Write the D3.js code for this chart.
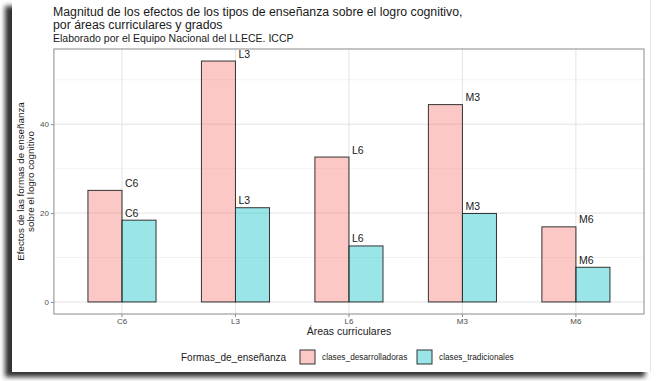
<!DOCTYPE html>
<html><head><meta charset="utf-8">
<script src="https://cdn.jsdelivr.net/npm/d3@7"></script>
<style>body{margin:0;background:#fff}svg{display:block}text{font-family:"Liberation Sans",Arial,sans-serif}</style>
</head><body><svg id="c" width="659" height="381"></svg>
<script>
const categories = ["C6","L3","L6","M3","M6"];
const seriesNames = ["clases_desarrolladoras","clases_tradicionales"];
const desarrolladoras = [25.1, 54.2, 32.6, 44.4, 16.9];
const tradicionales = [18.4, 21.2, 12.6, 19.9, 7.8];
const yTicks = [0, 20, 40];
const colors = ["#F8766D", "#00BFC4"];

const svg = d3.select("#c");
const defs = svg.append("defs");
const f = defs.append("filter").attr("id","sh").attr("x","-10%").attr("y","-10%").attr("width","120%").attr("height","120%");
f.append("feGaussianBlur").attr("stdDeviation", 2.5);
svg.append("rect").attr("x",5).attr("y",6).attr("width",640).attr("height",371).attr("fill","#333").attr("filter","url(#sh)");
svg.append("rect").attr("x",12).attr("y",0).attr("width",638).attr("height",372).attr("fill","#fff");
svg.append("line").attr("x1",650.5).attr("x2",650.5).attr("y1",0).attr("y2",372).attr("stroke","#e6e6e6");

const L = 53.9, R = 644, T = 49, B = 314;
const x = d3.scaleBand().domain(categories).range([L, R]).paddingInner(0).paddingOuter(0.1);
const step = x.step();
const xs = d3.scaleBand().domain(seriesNames).range([-0.3*step, 0.3*step]);
const yMax = d3.max(desarrolladoras.concat(tradicionales));
const y = d3.scaleLinear().domain([-0.05*yMax, 1.05*yMax]).range([B, T]);

const data = [];
categories.forEach((c,i)=>{
  data.push({c, s:seriesNames[0], v:desarrolladoras[i], k:0});
  data.push({c, s:seriesNames[1], v:tradicionales[i], k:1});
});

const g = svg.append("g");
[10,30,50].forEach(v=>{
  g.append("line").attr("x1",L).attr("x2",R).attr("y1",y(v)).attr("y2",y(v)).attr("stroke","#f0f0f0").attr("stroke-width",0.8);
});
yTicks.forEach(v=>{
  g.append("line").attr("x1",L).attr("x2",R).attr("y1",y(v)).attr("y2",y(v)).attr("stroke","#e3e3e3").attr("stroke-width",1);
});
categories.forEach(c=>{
  const cx = x(c)+step/2;
  g.append("line").attr("x1",cx).attr("x2",cx).attr("y1",T).attr("y2",B).attr("stroke","#e3e3e3").attr("stroke-width",1);
});

g.selectAll("rect.bar").data(data).enter().append("rect")
  .attr("x", d=>x(d.c)+step/2+xs(d.s))
  .attr("width", xs.bandwidth())
  .attr("y", d=>y(d.v))
  .attr("height", d=>y(0)-y(d.v))
  .attr("fill", d=>colors[d.k]).attr("fill-opacity",0.4)
  .attr("stroke","#333").attr("stroke-width",1);

g.selectAll("text.lab").data(data).enter().append("text")
  .attr("x", d=>x(d.c)+step/2+3)
  .attr("y", d=>y(d.v)-3.5)
  .attr("font-size",10.5).attr("fill","#1a1a1a")
  .text(d=>d.c);

g.append("rect").attr("x",L).attr("y",T).attr("width",R-L).attr("height",B-T).attr("fill","none").attr("stroke","#8a8a8a").attr("stroke-width",1);

const ya = svg.append("g").attr("transform",`translate(${L},0)`).call(d3.axisLeft(y).tickValues(yTicks).tickSize(3).tickPadding(2));
ya.select(".domain").remove();
ya.selectAll("line").attr("stroke","#8a8a8a");
ya.selectAll("text").attr("font-size",8).attr("fill","#4d4d4d").attr("font-family","Liberation Sans, Arial, sans-serif");
const xa = svg.append("g").attr("transform",`translate(0,${B})`).call(d3.axisBottom(x).tickSize(3).tickPadding(1));
xa.select(".domain").remove();
xa.selectAll("line").attr("stroke","#8a8a8a");
xa.selectAll("text").attr("font-size",8).attr("fill","#4d4d4d").attr("font-family","Liberation Sans, Arial, sans-serif");

svg.append("text").attr("x",53).attr("y",16).attr("font-size",12.3).attr("fill","#1a1a1a").text("Magnitud de los efectos de los tipos de enseñanza sobre el logro cognitivo,");
svg.append("text").attr("x",53).attr("y",29).attr("font-size",12.3).attr("fill","#1a1a1a").text("por áreas curriculares y grados");
svg.append("text").attr("x",53).attr("y",42).attr("font-size",10.5).attr("fill","#1a1a1a").text("Elaborado por el Equipo Nacional del LLECE. ICCP");

svg.append("text").attr("x",(L+R)/2).attr("y",335).attr("text-anchor","middle").attr("font-size",10.5).attr("fill","#1a1a1a").text("Áreas curriculares");

const yt = svg.append("text").attr("transform",`translate(23.5,${(T+B)/2}) rotate(-90)`).attr("text-anchor","middle").attr("font-size",9.8).attr("fill","#1a1a1a");
yt.append("tspan").attr("x",0).attr("y",0).text("Efectos de las formas de enseñanza");
yt.append("tspan").attr("x",0).attr("y",10.5).text("sobre el logro cognitivo");

svg.append("text").attr("x",181).attr("y",361).attr("font-size",10).attr("fill","#1a1a1a").text("Formas_de_enseñanza");
const legX = [300, 417];
seriesNames.forEach((s,i)=>{
  svg.append("rect").attr("x",legX[i]).attr("y",350).attr("width",15).attr("height",14)
    .attr("fill",colors[i]).attr("fill-opacity",0.4).attr("stroke","#333").attr("stroke-width",1);
  svg.append("text").attr("x",legX[i]+22).attr("y",360).attr("font-size",8.3).attr("fill","#1a1a1a").text(s);
});
</script></body></html>
